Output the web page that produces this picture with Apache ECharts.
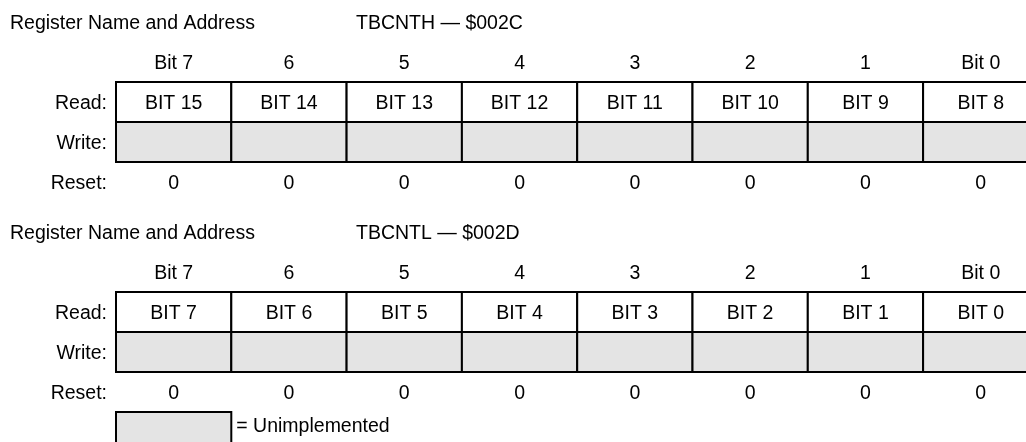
<!DOCTYPE html>
<html>
<head>
<meta charset="utf-8">
<script src="https://cdn.jsdelivr.net/npm/echarts@6/dist/echarts.min.js"></script>
<style>
html, body { margin: 0; padding: 0; background: #fff; }
#chart { width: 1026px; height: 442px; }
</style>
</head>
<body>
<div id="chart"></div>
<script>
// register layout data
var bitHeaders = ['Bit 7', '6', '5', '4', '3', '2', '1', 'Bit 0']
var rowNames = ['Read:', 'Write:', 'Reset:', '']
var registerNames = ['TBCNTH — $002C', 'TBCNTL — $002D']
var readHigh = ['BIT 15', 'BIT 14', 'BIT 13', 'BIT 12', 'BIT 11', 'BIT 10', 'BIT 9', 'BIT 8']
var readLow = ['BIT 7', 'BIT 6', 'BIT 5', 'BIT 4', 'BIT 3', 'BIT 2', 'BIT 1', 'BIT 0']
var resetHigh = [0, 0, 0, 0, 0, 0, 0, 0]
var resetLow = [0, 0, 0, 0, 0, 0, 0, 0]
var legendText = '= Unimplemented'

var FONT = '"Liberation Sans", Arial, Helvetica, sans-serif'
var FS = 19.5
var GRAY = '#e4e4e4'

function buildCells(readBits, resetBits, withLegend) {
  var cells = []
  for (var i = 0; i < readBits.length; i++) {
    cells.push([i, 0, 'read', readBits[i]])
    cells.push([i, 1, 'write', ''])
    cells.push([i, 2, 'reset', String(resetBits[i])])
  }
  if (withLegend) {
    cells.push([0, 3, 'legend', legendText])
  }
  return cells
}

function makeRender(cells) {
  return function(params, api) {
    var cell = cells[params.dataIndex]
    var c = api.coord([cell[0], cell[1]])
    var s = api.size([1, 1])
    var x0 = c[0] - s[0] / 2
    var y0 = c[1] - s[1] / 2
    var kind = cell[2]
    var children = []
    if (kind !== 'reset') {
      children.push({
        type: 'rect',
        shape: { x: x0, y: y0, width: s[0], height: s[1] },
        style: { fill: kind === 'read' ? '#fff' : GRAY, stroke: '#000', lineWidth: 2 }
      })
    }
    if (kind === 'legend') {
      children.push({
        type: 'text',
        style: {
          text: cell[3], x: x0 + s[0] + 5, y: y0 + 15,
          align: 'left', verticalAlign: 'middle',
          fontSize: FS, fontFamily: FONT, fill: '#000'
        }
      })
    } else if (cell[3] !== '') {
      children.push({
        type: 'text',
        style: {
          text: cell[3], x: c[0], y: c[1] + 1.5,
          align: 'center', verticalAlign: 'middle',
          fontSize: FS, fontFamily: FONT, fill: '#000'
        }
      })
    }
    return { type: 'group', children: children }
  }
}

var cellsHigh = buildCells(readHigh, resetHigh, false)
var cellsLow = buildCells(readLow, resetLow, true)

var gridTops = [82, 292]
var titleTops = [13.5, 223.5]

var chart = echarts.init(document.getElementById('chart'))

var titleStyle = { fontSize: FS, fontWeight: 'normal', color: '#000', fontFamily: FONT, lineHeight: 20 }
var titles = []
var grids = []
var xAxes = []
var yAxes = []
for (var g = 0; g < 2; g++) {
  titles.push({ text: 'Register Name and Address', left: 10, top: titleTops[g], padding: 0, textStyle: titleStyle })
  titles.push({ text: registerNames[g], left: 356, top: titleTops[g], padding: 0, textStyle: titleStyle })
  grids.push({ left: 116, top: gridTops[g], width: 922.4, height: 160, outerBoundsMode: 'none', containLabel: false })
  xAxes.push({
    gridIndex: g,
    type: 'category',
    position: 'top',
    data: bitHeaders,
    axisLine: { show: false },
    axisTick: { show: false },
    splitLine: { show: false },
    axisLabel: { interval: 0, margin: 8.5, fontSize: FS, color: '#000', fontFamily: FONT }
  })
  yAxes.push({
    gridIndex: g,
    type: 'category',
    inverse: true,
    data: rowNames,
    axisLine: { show: false },
    axisTick: { show: false },
    splitLine: { show: false },
    axisLabel: {
      interval: 0,
      margin: 9,
      formatter: function(v) { return v ? '{r|' + v + '}' : '' },
      rich: {
        r: { padding: [3, 0, 0, 0], fontSize: FS, color: '#000', fontFamily: FONT }
      }
    }
  })
}

chart.setOption({
  animation: false,
  backgroundColor: '#fff',
  title: titles,
  grid: grids,
  xAxis: xAxes,
  yAxis: yAxes,
  series: [
    {
      type: 'custom',
      xAxisIndex: 0,
      yAxisIndex: 0,
      clip: false,
      renderItem: makeRender(cellsHigh),
      encode: { x: 0, y: 1 },
      data: cellsHigh.map(function(c) { return [c[0], c[1]] })
    },
    {
      type: 'custom',
      xAxisIndex: 1,
      yAxisIndex: 1,
      clip: false,
      renderItem: makeRender(cellsLow),
      encode: { x: 0, y: 1 },
      data: cellsLow.map(function(c) { return [c[0], c[1]] })
    }
  ]
})
</script>
</body>
</html>
